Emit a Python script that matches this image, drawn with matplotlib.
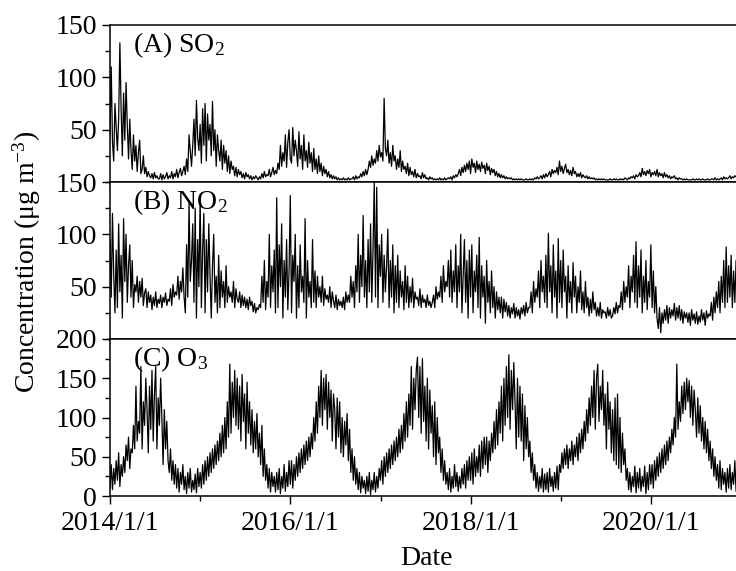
import matplotlib
matplotlib.use('Agg')
import matplotlib.pyplot as plt
from matplotlib.ticker import MultipleLocator
import pandas as pd

plt.rcParams['font.family'] = ['Liberation Serif', 'DejaVu Serif']
plt.rcParams['mathtext.fontset'] = 'custom'
plt.rcParams['mathtext.rm'] = 'Liberation Serif'
plt.rcParams['mathtext.it'] = 'Liberation Serif:italic'
plt.rcParams['mathtext.bf'] = 'Liberation Serif:bold'

# ---- data: values every 5 days starting 2014-01-01 ----
start_date = '2014-01-01'
step = '5D'

so2 = [
    # 2014
    45, 110, 38, 20, 75, 52, 30, 60, 133, 70, 25, 85, 40, 95, 55, 22, 60, 30,
    12, 45, 20, 35, 10, 28, 40, 8, 12, 25, 8, 14, 5, 10, 6, 4, 8, 3,
    9, 4, 6, 3, 3, 8, 2, 7, 3, 5, 9, 3, 6, 4, 10, 3, 8, 5,
    12, 4, 9, 13, 6, 10, 15, 7, 22, 10, 45, 30, 15, 35, 60, 25, 78, 42, 30,
    # 2015
    55, 18, 70, 35, 75, 20, 65, 40, 55, 25, 77, 30, 50, 15, 45, 30, 20, 40,
    12, 35, 18, 30, 10, 25, 8, 20, 12, 15, 6, 14, 5, 12, 7, 10, 4, 8,
    3, 9, 5, 7, 3, 6, 2, 5, 3, 6, 4, 2, 5, 3, 8, 4, 10, 5,
    7, 6, 12, 5, 9, 14, 7, 11, 8, 18, 12, 35, 15, 28, 20, 45, 14, 38, 50,
    # 2016
    22, 18, 52, 25, 40, 30, 15, 48, 22, 35, 12, 45, 20, 30, 14, 38, 18, 28,
    10, 32, 12, 22, 8, 25, 10, 18, 6, 15, 8, 12, 5, 10, 4, 7, 3, 6,
    3, 5, 2, 4, 2, 3, 2, 4, 2, 3, 2, 4, 2, 3, 3, 5, 2, 6,
    3, 5, 4, 8, 5, 10, 6, 12, 7, 12, 20, 14, 25, 16, 22, 18, 30, 20, 35,
    # 2017
    24, 28, 20, 80, 32, 25, 40, 18, 28, 15, 35, 20, 25, 12, 22, 14, 30, 10,
    20, 12, 15, 8, 18, 6, 14, 7, 10, 5, 12, 4, 8, 5, 6, 3, 9, 4,
    7, 3, 4, 2, 5, 3, 4, 2, 3, 2, 3, 2, 4, 2, 3, 2, 4, 2,
    3, 4, 3, 5, 2, 6, 4, 7, 5, 8, 12, 6, 14, 9, 16, 10, 18, 12, 20,
    # 2018
    8, 22, 14, 18, 9, 20, 12, 17, 10, 19, 13, 16, 8, 18, 11, 15, 7, 13,
    9, 12, 6, 10, 5, 8, 4, 7, 4, 6, 3, 5, 3, 4, 3, 4, 2, 3,
    2, 3, 2, 3, 2, 3, 2, 2, 2, 3, 2, 2, 3, 2, 3, 2, 4, 3,
    5, 3, 4, 6, 3, 7, 4, 8, 5, 7, 10, 5, 12, 8, 11, 9, 14, 7, 20,
    # 2019
    10, 15, 8, 13, 17, 9, 12, 7, 11, 6, 14, 8, 10, 5, 8, 5, 9, 4,
    7, 5, 4, 6, 3, 5, 3, 4, 3, 4, 2, 3, 2, 3, 2, 3, 2, 3,
    2, 2, 2, 2, 3, 2, 2, 3, 2, 3, 2, 2, 3, 2, 3, 2, 4, 3,
    2, 4, 3, 5, 4, 6, 3, 7, 5, 6, 9, 5, 13, 7, 10, 6, 11, 8, 12,
    # 2020
    5, 9, 7, 10, 6, 12, 5, 9, 6, 8, 4, 9, 5, 7, 4, 6, 3, 5,
    4, 6, 3, 4, 2, 4, 3, 3, 2, 3, 2, 3, 2, 2, 2, 2, 3, 2,
    2, 3, 2, 3, 2, 2, 3, 2, 2, 2, 3, 2, 2, 3, 3, 2, 4, 2,
    3, 2, 3, 4, 2, 5, 3, 4, 3, 4, 6, 3, 5, 4, 6, 5, 4, 6, 3,
]

no2 = [
    # 2014
    95, 40, 120, 62, 25, 85, 30, 110, 45, 80, 20, 115, 55, 100, 35, 70, 90, 40,
    75, 30, 52, 45, 60, 35, 55, 40, 58, 32, 44, 48, 30, 45, 35, 42, 28, 40,
    32, 45, 30, 38, 34, 42, 30, 40, 35, 44, 32, 38, 36, 48, 32, 52, 40, 45,
    42, 60, 38, 55, 45, 68, 40, 25, 90, 40, 130, 55, 75, 110, 35, 125, 20, 95, 50,
    # 2015
    135, 30, 85, 120, 25, 95, 45, 110, 60, 20, 70, 100, 35, 60, 25, 80, 30, 65,
    40, 55, 30, 70, 35, 50, 40, 45, 35, 55, 30, 48, 38, 35, 45, 30, 42, 32,
    40, 30, 38, 28, 40, 32, 36, 26, 34, 25, 30, 28, 33, 30, 60, 35, 75, 28,
    55, 40, 100, 30, 70, 45, 85, 25, 135, 30, 90, 50, 110, 20, 75, 40, 95, 28, 65,
    # 2016
    137, 25, 80, 55, 100, 20, 70, 30, 90, 45, 60, 35, 115, 20, 75, 40, 55, 30,
    95, 35, 65, 30, 60, 40, 50, 35, 60, 32, 48, 38, 42, 35, 50, 30, 45, 36,
    30, 42, 28, 38, 32, 36, 30, 40, 28, 45, 35, 42, 35, 60, 40, 55, 30, 70,
    45, 100, 35, 80, 50, 118, 40, 75, 30, 95, 45, 110, 35, 85, 150, 40, 145, 30, 90,
    # 2017
    60, 100, 35, 80, 45, 70, 105, 30, 75, 40, 90, 25, 70, 35, 80, 30, 65, 40,
    55, 28, 70, 35, 60, 30, 50, 35, 58, 30, 45, 38, 40, 32, 48, 30, 42, 35,
    38, 30, 42, 32, 36, 30, 35, 42, 30, 50, 38, 45, 40, 60, 35, 70, 45, 55,
    50, 75, 40, 85, 35, 65, 45, 90, 30, 70, 45, 100, 25, 60, 95, 35, 75, 20, 85,
    # 2018
    40, 90, 25, 65, 45, 80, 30, 97, 20, 70, 40, 60, 15, 75, 35, 55, 25, 65,
    30, 50, 20, 45, 28, 40, 25, 40, 20, 38, 26, 35, 22, 32, 20, 30, 24, 34,
    20, 30, 22, 28, 19, 30, 24, 32, 22, 35, 25, 30, 30, 45, 25, 55, 35, 48,
    40, 65, 30, 75, 45, 60, 35, 80, 30, 101, 45, 70, 25, 90, 40, 65, 20, 96, 35,
    # 2019
    75, 30, 85, 45, 60, 20, 70, 35, 55, 25, 73, 40, 60, 25, 50, 35, 65, 28,
    45, 25, 55, 30, 40, 22, 38, 25, 45, 28, 35, 22, 30, 22, 35, 20, 28, 25,
    26, 20, 30, 22, 28, 20, 22, 30, 24, 35, 25, 32, 30, 45, 28, 55, 35, 50,
    40, 70, 30, 60, 45, 80, 35, 93, 30, 70, 40, 85, 25, 60, 35, 75, 28, 55, 40,
    # 2020
    90, 30, 65, 25, 50, 20, 10, 30, 6, 25, 15, 28, 18, 32, 15, 30, 20, 28,
    22, 34, 18, 30, 20, 32, 18, 28, 15, 26, 20, 25, 16, 25, 13, 28, 18, 24,
    15, 26, 14, 22, 16, 28, 18, 25, 13, 27, 20, 24, 22, 35, 18, 40, 25, 45,
    30, 55, 25, 60, 35, 75, 30, 88, 35, 70, 40, 80, 30, 65, 35, 75, 28, 60, 40,
]

o3 = [
    # 2014
    10, 40, 8, 35, 15, 45, 20, 55, 12, 40, 25, 50, 30, 65, 45, 75, 35, 60,
    55, 90, 60, 140, 70, 95, 80, 165, 60, 120, 90, 150, 110, 55, 140, 85, 160, 70,
    130, 165, 60, 125, 90, 150, 100, 40, 110, 60, 95, 45, 30, 60, 20, 45, 15, 40,
    10, 35, 5, 30, 15, 40, 8, 25, 3, 30, 10, 35, 5, 20, 8, 28, 4, 35, 12,
    # 2015
    30, 10, 40, 15, 45, 20, 50, 25, 55, 30, 60, 35, 65, 40, 70, 45, 80, 50,
    90, 55, 100, 60, 120, 75, 168, 80, 145, 100, 160, 90, 150, 85, 140, 70, 155, 95,
    130, 60, 145, 80, 120, 65, 110, 55, 95, 60, 105, 50, 80, 40, 90, 25, 60, 20,
    40, 10, 35, 5, 30, 12, 25, 5, 30, 8, 35, 3, 25, 10, 40, 6, 30, 12, 45,
    # 2016
    15, 45, 10, 40, 20, 50, 25, 55, 30, 60, 35, 65, 40, 70, 45, 75, 50, 80,
    60, 100, 70, 120, 80, 140, 100, 160, 90, 150, 110, 155, 85, 145, 100, 135, 70, 130,
    110, 60, 125, 75, 120, 55, 100, 50, 95, 65, 105, 45, 85, 30, 60, 20, 50, 15,
    35, 8, 30, 4, 25, 10, 20, 3, 25, 6, 30, 2, 20, 8, 30, 5, 25, 10, 35,
    # 2017
    20, 45, 15, 50, 25, 55, 30, 60, 35, 65, 40, 70, 45, 75, 50, 85, 55, 90,
    60, 105, 70, 120, 75, 130, 90, 165, 85, 150, 110, 160, 177, 100, 165, 80, 175, 95,
    140, 70, 150, 60, 135, 80, 115, 50, 120, 40, 100, 55, 75, 30, 60, 20, 45, 15,
    30, 8, 35, 5, 25, 10, 40, 12, 30, 6, 25, 10, 35, 15, 40, 10, 45, 20, 50,
    # 2018
    20, 55, 15, 60, 25, 50, 30, 65, 25, 70, 35, 75, 40, 75, 30, 70, 45, 80,
    55, 95, 60, 110, 65, 120, 80, 140, 70, 150, 90, 165, 100, 180, 85, 160, 110, 170,
    120, 60, 150, 75, 140, 70, 130, 45, 115, 60, 100, 50, 70, 30, 55, 20, 40, 10,
    30, 6, 25, 10, 35, 5, 28, 8, 30, 5, 35, 12, 25, 6, 30, 10, 38, 8, 40,
    # 2019
    30, 55, 35, 60, 40, 65, 35, 60, 45, 70, 40, 65, 50, 75, 45, 80, 55, 85,
    60, 95, 70, 110, 80, 125, 90, 140, 100, 160, 85, 150, 168, 95, 140, 110, 160, 90,
    130, 60, 145, 85, 120, 55, 110, 45, 125, 40, 130, 35, 100, 30, 80, 40, 60, 20,
    35, 8, 30, 5, 25, 12, 38, 4, 30, 10, 35, 6, 25, 12, 38, 3, 30, 8, 40,
    # 2020
    15, 40, 10, 45, 20, 50, 25, 55, 30, 60, 35, 65, 40, 70, 45, 75, 55, 85,
    65, 100, 75, 168, 85, 120, 95, 140, 105, 145, 110, 150, 120, 147, 100, 140, 90, 135,
    110, 75, 125, 80, 115, 70, 100, 60, 95, 55, 85, 45, 70, 35, 60, 25, 50, 20,
    40, 10, 45, 8, 35, 15, 30, 5, 35, 10, 40, 8, 30, 15, 45, 6, 35, 12, 40,
]

panel_series = [so2, no2, o3]
panel_labels = ['(A) SO$_2$', '(B) NO$_2$', '(C) O$_3$']
panel_ylims = [(0, 150), (0, 150), (0, 200)]
panel_yticks = [[50, 100, 150], [50, 100, 150], [0, 50, 100, 150, 200]]
xtick_labels = ['2014/1/1', '2016/1/1', '2018/1/1', '2020/1/1']
xminor_dates = ['2015-01-01', '2017-01-01', '2019-01-01']
x_range = ('2014-01-01', '2021-01-01')
ylabel = 'Concentration (μg m$^{\\mathrm{-3}}$)'
xlabel = 'Date'

# ---- figure ----
W, H, DPI = 736, 571, 100
fig = plt.figure(figsize=(W / DPI, H / DPI), dpi=DPI)

left_px, right_px = 110, 741.5
tops_px = [25, 182, 339]
panel_h_px = 157
FS = 20

for i, (series, lab, ylim, yt) in enumerate(zip(panel_series, panel_labels,
                                                panel_ylims, panel_yticks)):
    top = tops_px[i]
    ax = fig.add_axes([left_px / W, 1 - (top + panel_h_px) / H,
                       (right_px - left_px) / W, panel_h_px / H])
    dates = pd.date_range(start_date, periods=len(series), freq=step)
    ax.plot(dates, series, color='black', lw=0.9)
    ax.set_xlim(pd.Timestamp(x_range[0]), pd.Timestamp(x_range[1]))
    ax.set_ylim(*ylim)
    ax.set_yticks(yt)
    ax.yaxis.set_minor_locator(MultipleLocator(25))
    ax.set_xticks([pd.Timestamp(s.replace('/', '-')) for s in xtick_labels])
    ax.set_xticks([pd.Timestamp(d) for d in xminor_dates], minor=True)
    if i == 2:
        ax.set_xticklabels(xtick_labels)
    else:
        ax.set_xticklabels([])
    ax.tick_params(axis='both', which='major', direction='out', length=6,
                   width=1.0, labelsize=FS)
    ax.tick_params(axis='both', which='minor', direction='out', length=3.5,
                   width=1.0)
    ax.tick_params(axis='y', which='major', pad=3.5)
    ax.tick_params(axis='x', which='major', pad=5)
    for sp in ax.spines.values():
        sp.set_linewidth(1.1)
    ax.text(0.036, 0.825, lab, transform=ax.transAxes, fontsize=FS,
            va='baseline', ha='left')

fig.text(0.036, 1 - 262 / H, ylabel, rotation=90, va='center', ha='center',
         fontsize=FS)
fig.text((left_px + 316) / W, 0.01, xlabel, va='baseline', ha='center',
         fontsize=FS)

fig.savefig('out.png', dpi=DPI)
